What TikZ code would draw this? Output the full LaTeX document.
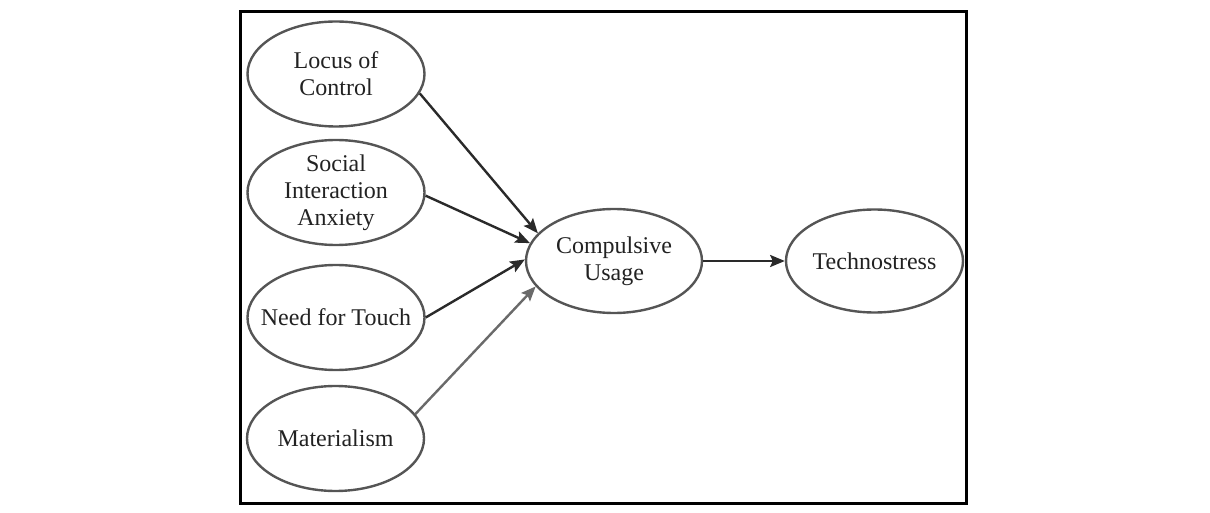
\documentclass[tikz,border=0pt]{standalone}
\usepackage{fontspec}
\setmainfont{Liberation Serif}
\usetikzlibrary{shapes.geometric,arrows.meta}
\definecolor{ellgray}{HTML}{555555}
\definecolor{txtgray}{HTML}{222222}
\definecolor{arrdark}{HTML}{2A2A2A}
\definecolor{arrgray}{HTML}{6A6A6A}
\begin{document}
\begin{tikzpicture}[x=0.75pt,y=-0.75pt,
  ell/.style={draw=ellgray, line width=1.8pt, ellipse, inner sep=0pt,
    minimum width=132.75pt, minimum height=78.75pt},
  lab/.style={align=center, text=txtgray, inner sep=0pt,
    font=\fontsize{18pt}{20.25pt}\selectfont},
  conn/.style={line width=1.8pt, draw=arrdark,
    -{Stealth[length=11pt,width=9pt,inset=2pt]}},
  conngray/.style={conn, draw=arrgray}
]
\useasboundingbox (0,0) rectangle (1210,513);
\draw[line width=2.25pt, black] (240.5,11.5) rectangle (966.5,503);

\node[ell, label={[lab]center:Locus of\\Control}] (loc) at (336,74) {};
\node[ell, label={[lab]center:Social\\Interaction\\Anxiety}] (soc) at (336,192.5) {};
\node[ell, label={[lab]center:Need for Touch}] (need) at (336,317.5) {};
\node[ell, label={[lab]center:Materialism}] (mat) at (335.5,438.5) {};
\node[ell, minimum width=132pt, minimum height=78pt, label={[lab]center:Compulsive\\Usage}] (comp) at (614,261) {};
\node[ell, minimum width=132.75pt, minimum height=77.25pt, label={[lab]center:Technostress}] (tech) at (874.5,261) {};

\draw[conn] (loc.-13) -- (comp.160);
\draw[conn] (soc.-2) -- (comp.168);
\draw[conn] (need.0) -- (comp.179);
\draw[conngray] (mat.17.5) -- (comp.-162.4);
\draw[conn] (comp.0) -- (tech.180);
\end{tikzpicture}
\end{document}
